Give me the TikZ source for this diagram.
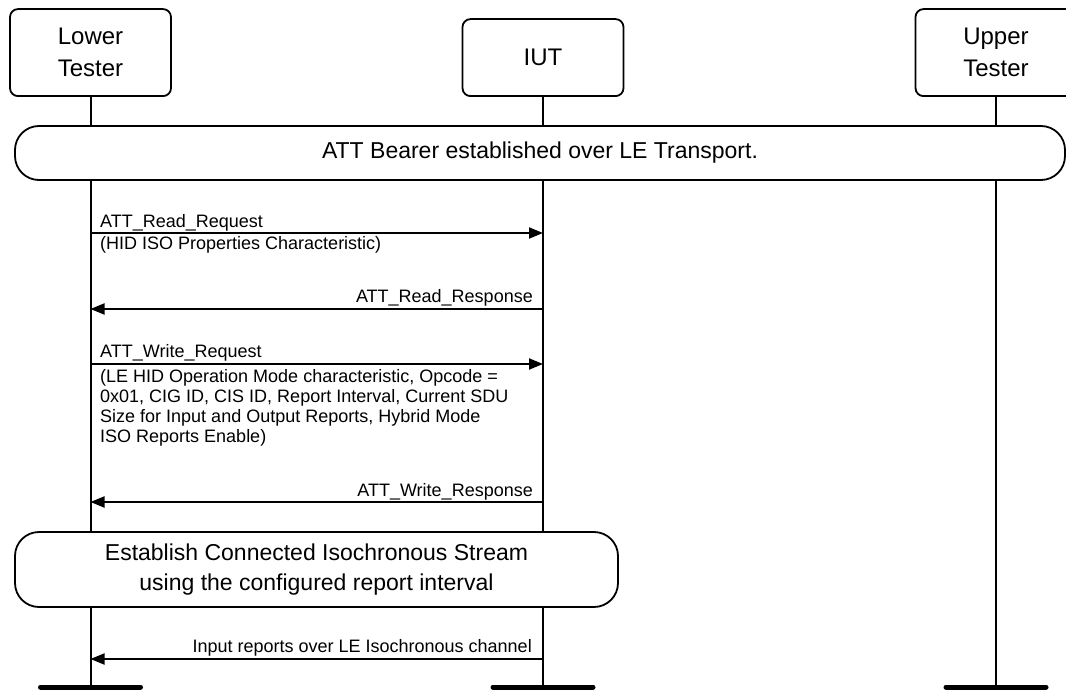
\documentclass[tikz,border=0pt]{standalone}
\usepackage{fontspec}
\setmainfont{Liberation Sans}
\usetikzlibrary{arrows.meta, positioning}
\tikzset{
  actor/.style={rectangle, rounded corners=8pt, draw, line width=1.8pt,
                fill=white, align=center, minimum width=161pt,
                font=\fontsize{24}{32}\selectfont},
  phase/.style={rectangle, rounded corners=24pt, draw, line width=1.8pt,
                fill=white, align=center, font=\fontsize{23}{30}\selectfont},
  life/.style={line width=2pt},
  bar/.style={line width=5pt, line cap=round},
  msg/.style={-{Triangle[length=14pt, width=11pt]}, line width=2pt},
  lbl/.style={font=\fontsize{18}{20}\selectfont, inner sep=0pt, align=left},
}

\begin{document}
\begin{tikzpicture}[x=1pt, y=-1pt]
  \clip (0,0) rectangle (1066,690);

  % ---- lifelines ----
  \node[actor, minimum height=87pt, anchor=south] (lt) at (90.5,97) {Lower\\Tester};
  \node[actor, minimum height=77pt, anchor=south] (iut) at (543,97) {IUT};
  \node[actor, minimum height=87pt, anchor=south] (ut) at (996,97) {Upper\\Tester};

  \coordinate (e) at (0,687);
  \draw[life] (lt) -- (lt |- e);
  \draw[life] (iut) -- (iut |- e);
  \draw[life] (ut) -- (ut |- e);

  % ---- phases ----
  \node[phase, minimum width=1050pt, minimum height=54pt] (bearer) at (540,153)
    {ATT Bearer established over LE Transport.};
  \node[phase, minimum width=603pt, minimum height=75pt] (cis) at (316.5,569.5)
    {Establish Connected Isochronous Stream\\using the configured report interval};

  % ---- messages ----
  \coordinate (m1) at (0,233);
  \coordinate (m2) at (0,309);
  \coordinate (m3) at (0,364);
  \coordinate (m4) at (0,502);
  \coordinate (m5) at (0,659);

  \draw[msg] (lt |- m1) -- (iut |- m1);
  \node[lbl, anchor=base west] (m1a) at (100,227) {ATT\_Read\_Request};
  \node[lbl, anchor=base west] (m1b) at (100,249) {(HID ISO Properties Characteristic)};

  \draw[msg] (iut |- m2) -- (lt |- m2);
  \node[lbl, anchor=base east] (m2a) at (533,302) {ATT\_Read\_Response};

  \draw[msg] (lt |- m3) -- (iut |- m3);
  \node[lbl, anchor=base west] (m3a) at (100,357) {ATT\_Write\_Request};
  \node[lbl, anchor=north west] (m3b) at (100,369)
    {(LE HID Operation Mode characteristic, Opcode =\\
     0x01, CIG ID, CIS ID, Report Interval, Current SDU\\
     Size for Input and Output Reports, Hybrid Mode\\
     ISO Reports Enable)};

  \draw[msg] (iut |- m4) -- (lt |- m4);
  \node[lbl, anchor=base east] (m4a) at (533,496) {ATT\_Write\_Response};

  \draw[msg] (iut |- m5) -- (lt |- m5);
  \node[lbl, anchor=base east] (m5a) at (532,652) {Input reports over LE Isochronous channel};

  % ---- ends ----
  \draw[bar] ([xshift=-50pt]lt |- e) -- ([xshift=50pt]lt |- e);
  \draw[bar] ([xshift=-50pt]iut |- e) -- ([xshift=50pt]iut |- e);
  \draw[bar] ([xshift=-50pt]ut |- e) -- ([xshift=50pt]ut |- e);
\end{tikzpicture}
\end{document}
